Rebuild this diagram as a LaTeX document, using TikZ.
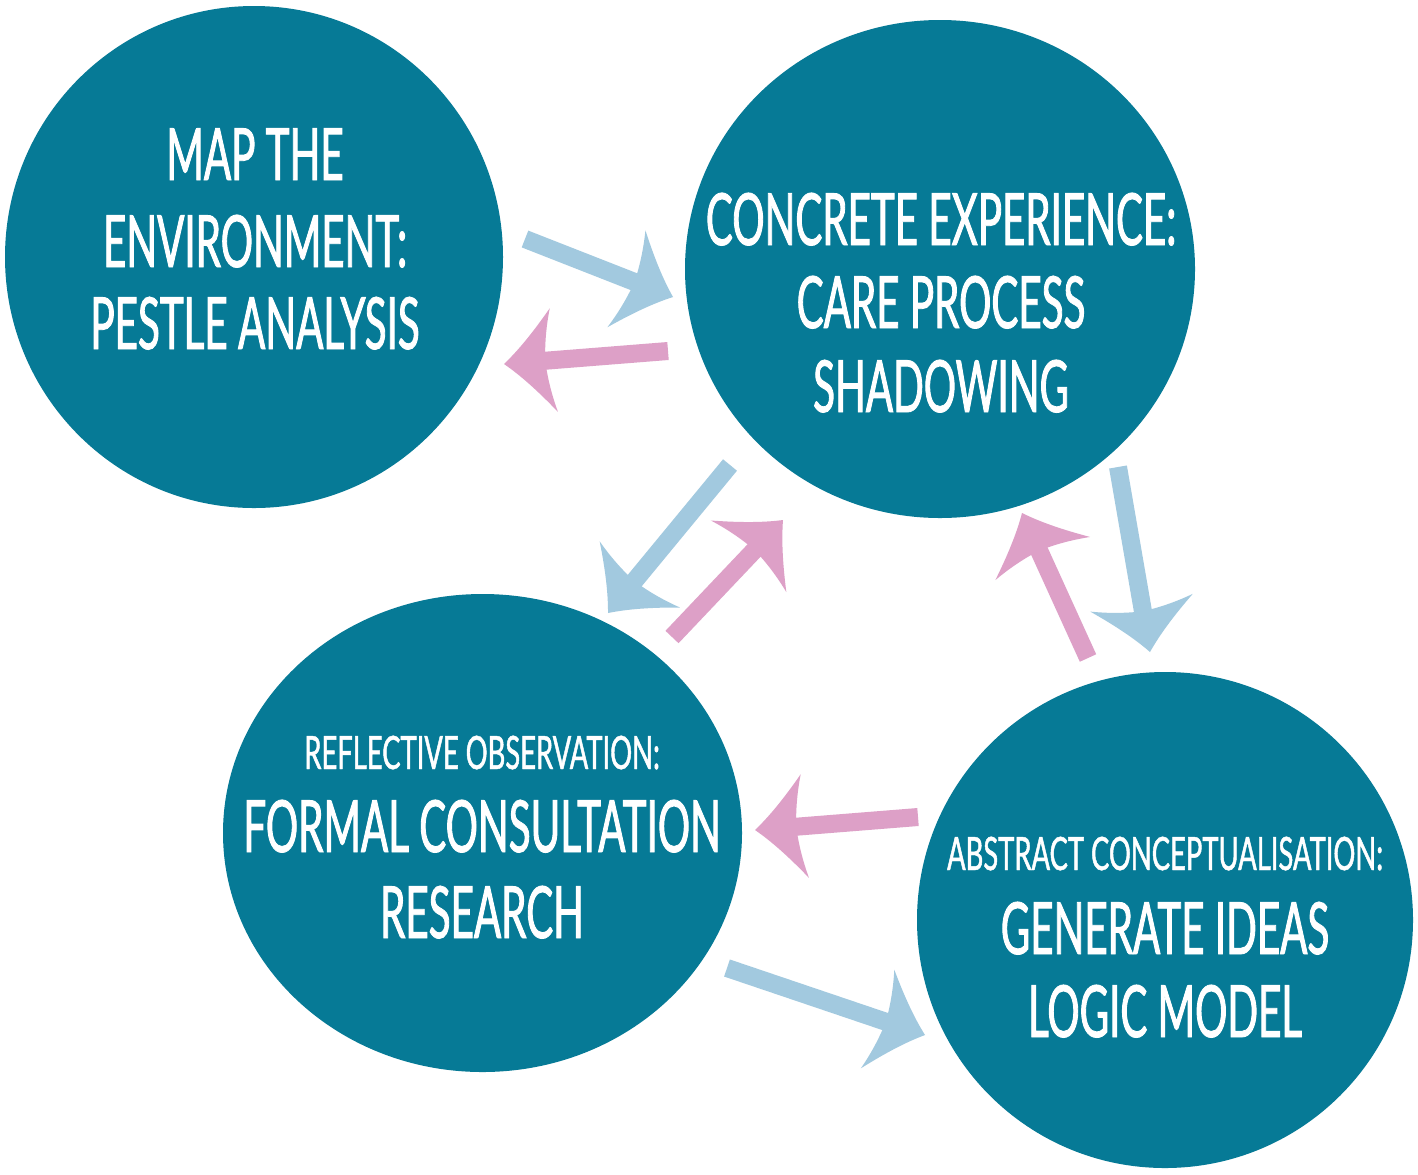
\documentclass[tikz,border=0pt]{standalone}
\usepackage{fontspec}
\newfontfamily\cond[FakeStretch=0.56,FakeBold=1.2]{Lato}
\newfontfamily\condS[FakeStretch=0.595,FakeBold=1]{Lato}
\usetikzlibrary{shapes.geometric,arrows.meta}
\definecolor{circ}{RGB}{6,122,150}
\definecolor{blu}{RGB}{162,201,223}
\definecolor{pnk}{RGB}{221,160,199}
\pgfdeclarearrow{
  name = Swept,
  setup code = {
    \pgfarrowssettipend{0pt}
    \pgfarrowssetlineend{-15pt}
    \pgfarrowssetbackend{-25pt}
  },
  drawing code = {
    \pgfpathmoveto{\pgfqpoint{0pt}{0pt}}
    \pgfpathcurveto{\pgfqpoint{-8pt}{6.5pt}}{\pgfqpoint{-16pt}{15pt}}{\pgfqpoint{-25pt}{26pt}}
    \pgfpathcurveto{\pgfqpoint{-22.5pt}{17pt}}{\pgfqpoint{-21.5pt}{10pt}}{\pgfqpoint{-21pt}{4.5pt}}
    \pgfpathlineto{\pgfqpoint{-21pt}{-4.5pt}}
    \pgfpathcurveto{\pgfqpoint{-21.5pt}{-10pt}}{\pgfqpoint{-22.5pt}{-17pt}}{\pgfqpoint{-25pt}{-26pt}}
    \pgfpathcurveto{\pgfqpoint{-16pt}{-15pt}}{\pgfqpoint{-8pt}{-6.5pt}}{\pgfqpoint{0pt}{0pt}}
    \pgfpathclose
    \pgfusepathqfill
  }
}
\tikzset{
  blob/.style={ellipse, fill=circ, inner sep=0pt, draw=none},
  big/.style={font=\cond\fontsize{36}{40}\selectfont, text=white, inner sep=0pt, anchor=base},
  small/.style={font=\condS\fontsize{23}{27}\selectfont, text=white, inner sep=0pt, anchor=base},
  bluarrow/.style={color=blu, line width=9pt, line cap=butt, -Swept},
  pnkarrow/.style={color=pnk, line width=9pt, line cap=butt, -Swept}
}
\begin{document}
\begin{tikzpicture}[x=0.5pt, y=-0.5pt]
\fill[white] (0,0) rectangle (1418,1174);
\useasboundingbox (0,0) rectangle (1418,1174);
% circles
\node[blob, minimum width=249pt, minimum height=251pt] (map) at (254,257) {};
\node[blob, minimum width=255pt, minimum height=249pt] (conc) at (940,269) {};
\node[blob, minimum width=259.5pt, minimum height=239pt] (refl) at (482.5,833) {};
\node[blob, minimum width=248pt, minimum height=248pt] (abst) at (1165,920) {};
% texts
\node[big] (t1a) at (255,180) {MAP THE};
\node[big] (t1b) at (255,267) {ENVIRONMENT:};
\node[big] (t1c) at (255,349) {PESTLE ANALYSIS};
\node[big] (t2a) at (941,245) {CONCRETE EXPERIENCE:};
\node[big] (t2b) at (941,328) {CARE PROCESS};
\node[big] (t2c) at (941,412) {SHADOWING};
\node[small] (t3a) at (482,769) {REFLECTIVE OBSERVATION:};
\node[big] (t3b) at (482,852) {FORMAL CONSULTATION};
\node[big] (t3c) at (482,938) {RESEARCH};
\node[small] (t4a) at (1165,870) {ABSTRACT CONCEPTUALISATION:};
\node[big] (t4b) at (1165,954) {GENERATE IDEAS};
\node[big] (t4c) at (1165,1037) {LOGIC MODEL};
% arrow end points
\coordinate (a1s) at (525,239);  \coordinate (a1e) at (673,297);
\coordinate (a2s) at (668,351);  \coordinate (a2e) at (504,364);
\coordinate (a3s) at (730,465);  \coordinate (a3e) at (608,613);
\coordinate (a4s) at (672,637);  \coordinate (a4e) at (783,520);
\coordinate (a5s) at (1088,658); \coordinate (a5e) at (1022,513);
\coordinate (a6s) at (1118,467); \coordinate (a6e) at (1150,652);
\coordinate (a7s) at (918,817);  \coordinate (a7e) at (755,830);
\coordinate (a8s) at (727,968);  \coordinate (a8e) at (925,1035);
\draw[bluarrow] (a1s) -- (a1e);
\draw[pnkarrow] (a2s) -- (a2e);
\draw[bluarrow] (a3s) -- (a3e);
\draw[pnkarrow] (a4s) -- (a4e);
\draw[pnkarrow] (a5s) -- (a5e);
\draw[bluarrow] (a6s) -- (a6e);
\draw[pnkarrow] (a7s) -- (a7e);
\draw[bluarrow] (a8s) -- (a8e);
\end{tikzpicture}
\end{document}
